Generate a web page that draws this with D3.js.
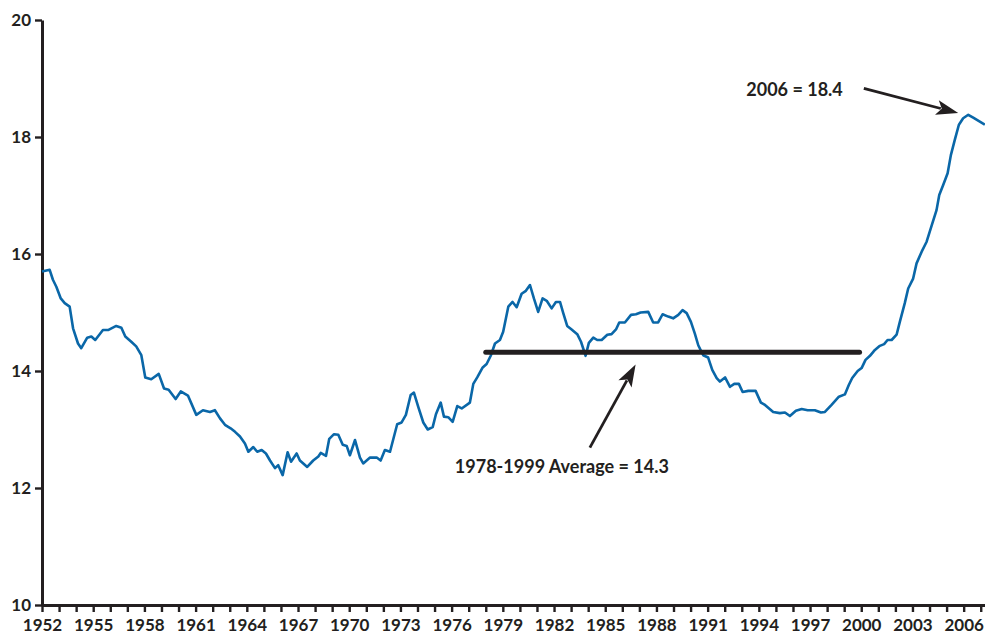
<!DOCTYPE html>
<html>
<head>
<meta charset="utf-8">
<script src="https://cdn.jsdelivr.net/npm/d3@7"></script>
<style>
  html, body { margin: 0; padding: 0; background: #fff; }
  svg { display: block; }
  text { font-family: Lato, "Open Sans", sans-serif; font-weight: 700; fill: #231f20; }
</style>
</head>
<body>
<svg id="chart" width="985" height="635"></svg>
<script>
// ---- data ----
const dates = [
  1952.00, 1952.45, 1952.64, 1952.84, 1953.10, 1953.33, 1953.62, 1953.82, 1954.11, 1954.30,
  1954.65, 1954.89, 1955.12, 1955.57, 1955.87, 1956.35, 1956.65, 1956.88, 1957.23, 1957.52,
  1957.82, 1958.05, 1958.40, 1958.84, 1959.15, 1959.42, 1959.83, 1960.13, 1960.55, 1961.04,
  1961.43, 1961.84, 1962.13, 1962.43, 1962.72, 1963.05, 1963.31, 1963.60, 1963.89, 1964.09,
  1964.38, 1964.61, 1964.87, 1965.12, 1965.36, 1965.65, 1965.84, 1966.10, 1966.39, 1966.59,
  1966.92, 1967.11, 1967.54, 1967.89, 1968.19, 1968.33, 1968.64, 1968.83, 1969.11, 1969.36,
  1969.62, 1969.85, 1970.04, 1970.34, 1970.63, 1970.82, 1971.22, 1971.61, 1971.84, 1972.09,
  1972.39, 1972.81, 1973.07, 1973.32, 1973.60, 1973.79, 1974.04, 1974.34, 1974.60, 1974.89,
  1975.08, 1975.36, 1975.55, 1975.80, 1976.06, 1976.33, 1976.59, 1977.07, 1977.27, 1977.50,
  1977.82, 1978.05, 1978.29, 1978.54, 1978.83, 1979.02, 1979.32, 1979.57, 1979.81, 1980.10,
  1980.35, 1980.59, 1980.82, 1981.07, 1981.33, 1981.57, 1981.86, 1982.11, 1982.35, 1982.54,
  1982.77, 1983.03, 1983.36, 1983.58, 1983.85, 1984.04, 1984.30, 1984.53, 1984.79, 1985.12,
  1985.37, 1985.63, 1985.82, 1986.15, 1986.51, 1986.80, 1987.07, 1987.52, 1987.81, 1988.10,
  1988.36, 1988.69, 1988.98, 1989.28, 1989.53, 1989.77, 1990.02, 1990.25, 1990.45, 1990.74,
  1991.03, 1991.27, 1991.53, 1991.72, 1992.02, 1992.31, 1992.56, 1992.83, 1993.05, 1993.38,
  1993.81, 1994.12, 1994.36, 1994.84, 1995.23, 1995.53, 1995.82, 1996.17, 1996.51, 1996.86,
  1997.28, 1997.64, 1997.87, 1998.26, 1998.69, 1999.04, 1999.27, 1999.47, 1999.79, 2000.02,
  2000.25, 2000.51, 2000.80, 2001.09, 2001.34, 2001.54, 2001.78, 2002.07, 2002.26, 2002.55,
  2002.75, 2003.04, 2003.24, 2003.54, 2003.83, 2004.16, 2004.41, 2004.57, 2004.80, 2005.06,
  2005.25, 2005.48, 2005.72, 2005.97, 2006.27, 2006.56, 2006.85, 2007.24
];
const values = [
  15.70, 15.73, 15.56, 15.44, 15.24, 15.16, 15.10, 14.73, 14.47, 14.39,
  14.57, 14.59, 14.53, 14.70, 14.70, 14.77, 14.74, 14.59, 14.50, 14.42,
  14.27, 13.89, 13.86, 13.95, 13.70, 13.68, 13.52, 13.65, 13.58, 13.25,
  13.33, 13.30, 13.33, 13.19, 13.08, 13.02, 12.96, 12.88, 12.76, 12.62,
  12.70, 12.62, 12.65, 12.59, 12.47, 12.34, 12.39, 12.22, 12.61, 12.45,
  12.59, 12.47, 12.36, 12.47, 12.54, 12.60, 12.55, 12.84, 12.92, 12.91,
  12.74, 12.72, 12.56, 12.82, 12.52, 12.42, 12.52, 12.52, 12.47, 12.65,
  12.62, 13.09, 13.12, 13.25, 13.59, 13.63, 13.39, 13.12, 13.00, 13.04,
  13.26, 13.46, 13.22, 13.21, 13.13, 13.40, 13.36, 13.46, 13.78, 13.89,
  14.06, 14.12, 14.26, 14.47, 14.53, 14.67, 15.10, 15.18, 15.09, 15.32,
  15.37, 15.47, 15.24, 15.01, 15.24, 15.20, 15.07, 15.18, 15.18, 14.99,
  14.77, 14.71, 14.63, 14.50, 14.26, 14.48, 14.57, 14.53, 14.53, 14.62,
  14.63, 14.71, 14.83, 14.83, 14.96, 14.97, 15.00, 15.01, 14.83, 14.83,
  14.97, 14.93, 14.90, 14.96, 15.04, 14.99, 14.84, 14.64, 14.44, 14.27,
  14.23, 14.02, 13.88, 13.82, 13.89, 13.73, 13.78, 13.78, 13.64, 13.66,
  13.66, 13.46, 13.42, 13.30, 13.28, 13.29, 13.23, 13.32, 13.35, 13.33,
  13.33, 13.29, 13.30, 13.42, 13.56, 13.60, 13.76, 13.88, 14.00, 14.05,
  14.19, 14.26, 14.36, 14.43, 14.46, 14.53, 14.53, 14.62, 14.84, 15.16,
  15.41, 15.58, 15.84, 16.04, 16.21, 16.52, 16.75, 17.01, 17.18, 17.38,
  17.69, 17.95, 18.21, 18.32, 18.38, 18.33, 18.28, 18.21
];
const yTicks = [10, 12, 14, 16, 18, 20];
const xTickYears = d3.range(1952, 2008);      // a tick every year
const xLabelYears = d3.range(1952, 2007, 3);  // a label every third year

const avgStart = 1978, avgEnd = 1999.9, avgValue = 14.32;
const avgLabel = "1978-1999 Average = 14.3";
const peakLabel = "2006 = 18.4";

// ---- layout ----
const svg = d3.select("#chart");
const ink = "#231f20";
const x = d3.scaleLinear().domain([1952, 2007.25]).range([42, 985]);
const y = d3.scaleLinear().domain([10, 20]).range([605, 20]);

// axes
const xAxis = d3.axisBottom(x)
  .tickValues(xTickYears)
  .tickSize(7).tickSizeOuter(0).tickPadding(7)
  .tickFormat(d => xLabelYears.includes(d) ? String(d) : "");
const yAxis = d3.axisLeft(y)
  .tickValues(yTicks)
  .tickSize(7).tickSizeOuter(0).tickPadding(4)
  .tickFormat(d3.format("d"));

const gx = svg.append("g").attr("transform", `translate(0,${y(10)})`).call(xAxis);
const gy = svg.append("g").attr("transform", `translate(${x(1952)},0)`).call(yAxis);
[gx, gy].forEach(g => {
  g.select(".domain").attr("stroke", ink).attr("stroke-width", 3);
  g.selectAll(".tick line").attr("stroke", ink).attr("stroke-width", 2.4);
  g.selectAll(".tick text").attr("fill", ink)
    .style("font-family", "Lato, sans-serif").style("font-weight", 700).style("font-size", "17px");
});

// series line
const line = d3.line().x((d, i) => x(dates[i])).y(d => y(d));
svg.append("path")
  .datum(values)
  .attr("d", line)
  .attr("fill", "none")
  .attr("stroke", "#0a67a8")
  .attr("stroke-width", 2.6)
  .attr("stroke-linejoin", "round");

// average line
svg.append("line")
  .attr("x1", x(avgStart)).attr("x2", x(avgEnd))
  .attr("y1", y(avgValue)).attr("y2", y(avgValue))
  .attr("stroke", ink).attr("stroke-width", 5).attr("stroke-linecap", "round");

// arrows
function arrow(x1, y1, x2, y2) {
  const len = 22, half = 7.5, w = 2.8;
  const dx = x2 - x1, dy = y2 - y1, L = Math.hypot(dx, dy);
  const ux = dx / L, uy = dy / L;
  const bx = x2 - ux * len, by = y2 - uy * len;
  svg.append("line")
    .attr("x1", x1).attr("y1", y1).attr("x2", bx + ux * 4).attr("y2", by + uy * 4)
    .attr("stroke", ink).attr("stroke-width", w);
  svg.append("path")
    .attr("d", `M${x2},${y2}L${bx - uy * half},${by + ux * half}L${bx + ux * 5},${by + uy * 5}L${bx + uy * half},${by - ux * half}Z`)
    .attr("fill", ink);
}
arrow(x(1984.10), y(12.69), x(1986.78), y(14.11));
arrow(x(2000.15), y(18.83), x(2005.68), y(18.41));

// labels
svg.append("text")
  .attr("x", x(1982.46)).attr("y", y(12.26))
  .attr("text-anchor", "middle")
  .style("font-size", "18px").style("font-weight", 700)
  .text(avgLabel);
svg.append("text")
  .attr("x", x(1998.92)).attr("y", y(18.70))
  .attr("text-anchor", "end")
  .style("font-size", "18px").style("font-weight", 700)
  .text(peakLabel);
</script>
</body>
</html>
